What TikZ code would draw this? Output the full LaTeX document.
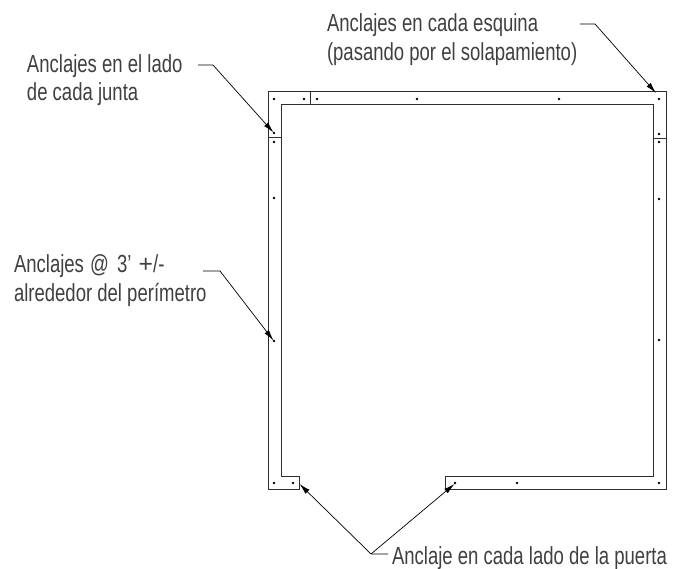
\documentclass[tikz,border=0pt]{standalone}
\usepackage{fontspec}
\setmainfont[FakeStretch=0.75]{Liberation Sans}
\newfontfamily\widesym{Liberation Sans}
\usetikzlibrary{arrows.meta}
\definecolor{frameink}{gray}{0.18}
\definecolor{textink}{gray}{0.25}
\tikzset{
  x=1pt,y=-1pt,
  frameline/.style={draw=frameink,line width=0.85pt,line join=miter},
  leader/.style={draw=black,line width=0.7pt},
  leaderarrow/.style={leader,-{Latex[length=11pt,width=5.5pt]}},
  label/.style={anchor=base west,inner sep=0pt,outer sep=0pt,text=textink,font=\fontsize{24.7}{26}\selectfont},
  anchorpt/.style={circle,fill=black,inner sep=0pt,minimum size=2.8pt}
}
\begin{document}
\begin{tikzpicture}
\useasboundingbox (0,0) rectangle (673,569);
% frame
\draw[frameline] (268,91) -- (666,91) -- (666,489) -- (445,489) -- (445,476) -- (653,476) -- (653,104) -- (281,104) -- (281,476) -- (299,476) -- (299,489) -- (268,489) -- cycle;
\draw[frameline] (310,91) -- (310,104);
\draw[frameline] (268,137.5) -- (281,137.5);
\draw[frameline] (653,138) -- (666,138);
% anchors
\foreach \n/\x/\y in {a/274/99,b/304/99,c/317/99,d/417/99,e/559/99,f/659/99,
  g/274/133,h/274/142,i/274/198,j/274/341,k/274/483,l/293/483,
  m/659/134,n/659/142,o/659/199,p/659/340,q/659/483,r/517/483,s/455/483}
  \node[anchorpt] (\n) at (\x,\y) {};
% labels
\node[label] (t1) at (327,32) {Anclajes en cada esquina};
\node[label] (t2) at (327,61) {(pasando por el solapamiento)};
\node[label] (t3) at (27,73) {Anclajes en el lado};
\node[label] (t4) at (27,101) {de cada junta};
\node[label] (t5) at (14,273) {Anclajes\hspace{1pt} @\hspace{3pt} 3'\hspace{2pt} {\widesym +}/-};
\node[label] (t6) at (14,302) {alrededor del perímetro};
\node[label] (t7) at (392,565) {Anclaje en cada lado de la puerta};
% leader points
\coordinate (l1s) at (580,24); \coordinate (l1b) at (595,24); \coordinate (l1e) at (656,93);
\coordinate (l2s) at (198,65); \coordinate (l2b) at (213,65); \coordinate (l2e) at (273.5,132.5);
\coordinate (l3s) at (203,271); \coordinate (l3b) at (220,271); \coordinate (l3e) at (273.5,340.5);
\coordinate (l4s) at (388,554); \coordinate (l4b) at (371,554); \coordinate (l4e) at (299.5,484); \coordinate (l4f) at (454.5,484);
\draw[leaderarrow] (l1s) -- (l1b) -- (l1e);
\draw[leaderarrow] (l2s) -- (l2b) -- (l2e);
\draw[leaderarrow] (l3s) -- (l3b) -- (l3e);
\draw[leaderarrow] (l4s) -- (l4b) -- (l4e);
\draw[leaderarrow] (l4b) -- (l4f);
\end{tikzpicture}
\end{document}
